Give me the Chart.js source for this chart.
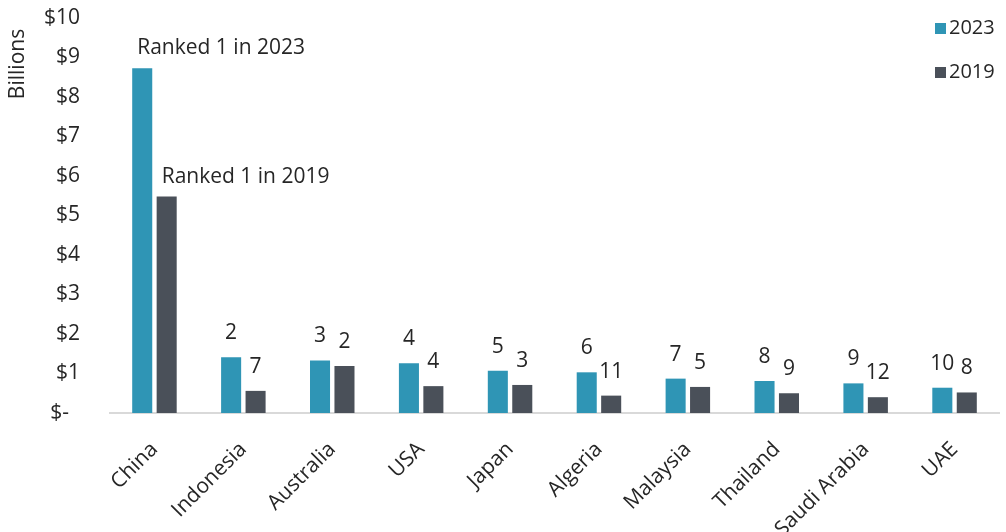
<!DOCTYPE html>
<html><head><meta charset="utf-8">
<script src="https://cdn.jsdelivr.net/npm/chart.js@4/dist/chart.umd.min.js"></script>
<style>html,body{margin:0;padding:0;background:#fff}#wrap{width:1006px;height:532px;position:relative}</style>
</head><body><div id="wrap"><canvas id="c"></canvas></div>
<script>
const categories = ['China','Indonesia','Australia','USA','Japan','Algeria','Malaysia','Thailand','Saudi Arabia','UAE'];
const values2023 = [8.73,1.41,1.33,1.26,1.07,1.03,0.87,0.81,0.75,0.64];
const values2019 = [5.48,0.56,1.19,0.68,0.71,0.44,0.66,0.50,0.40,0.52];
const ranks2023 = ['Ranked 1 in 2023','2','3','4','5','6','7','8','9','10'];
const ranks2019 = ['Ranked 1 in 2019','7','2','4','3','11','5','9','12','8'];
const seriesNames = ['2023','2019'];
const axisTitle = 'Billions';
const colors = ['#2f95b5','#4a5059'];
const FONT = '"Open Sans", sans-serif';
const TXT = '#262626';

const labelPlugin = {
  id:'rankLabels',
  afterDatasetsDraw(chart){
    const ctx = chart.ctx;
    ctx.save();
    ctx.font = '21px ' + FONT;
    ctx.fillStyle = TXT;
    ctx.textBaseline = 'middle';
    [ranks2023, ranks2019].forEach((ranks, di) => {
      const meta = chart.getDatasetMeta(di);
      meta.data.forEach((bar, i) => {
        if (i === 0) {
          ctx.textAlign = 'left';
          ctx.fillText(ranks[i], bar.x - 5, bar.y - 20);
        } else {
          ctx.textAlign = 'center';
          ctx.fillText(ranks[i], bar.x, bar.y - 24);
        }
      });
    });
    // axis title
    ctx.save();
    ctx.translate(18, 64);
    ctx.rotate(-Math.PI/2);
    ctx.textAlign = 'center';
    ctx.fillText(axisTitle, 0, 0);
    ctx.restore();
    // legend
    ctx.font = '20px ' + FONT;
    ctx.textAlign = 'left';
    const lx = 935, ly = [28, 72];
    seriesNames.forEach((n, i) => {
      ctx.fillStyle = colors[i];
      ctx.fillRect(lx, ly[i] - 5, 11, 11);
      ctx.fillStyle = TXT;
      ctx.fillText(n, lx + 14, ly[i]);
    });
    ctx.restore();
  }
};

new Chart(document.getElementById('c'), {
  type:'bar',
  data:{
    labels: categories,
    datasets:[
      {label: seriesNames[0], data: values2023, backgroundColor: colors[0], categoryPercentage:0.55, barPercentage:0.82},
      {label: seriesNames[1], data: values2019, backgroundColor: colors[1], categoryPercentage:0.55, barPercentage:0.82}
    ]
  },
  options:{
    responsive:true, maintainAspectRatio:false, animation:false,
    devicePixelRatio:1,
    layout:{padding:{top:18, right:7, left:0, bottom:0}},
    plugins:{legend:{display:false}, tooltip:{enabled:false}},
    scales:{
      x:{
        grid:{display:false, drawTicks:false},
        border:{display:true, color:'#d9d9d9', width:2},
        ticks:{font:{family:FONT, size:21}, color:TXT, maxRotation:45, minRotation:45, padding:24},
        afterFit(s){ s.height = 119; s.paddingTop = 0; }
      },
      y:{
        min:0, max:10,
        grid:{display:false, drawTicks:false},
        border:{display:false},
        ticks:{stepSize:1, font:{family:FONT, size:21}, color:TXT, padding:30,
          callback:(v)=> v===0 ? '$-  ' : '$'+v},
        afterFit(s){ s.width = 110; s.paddingTop = 0; s.paddingBottom = 0; }
      }
    }
  },
  plugins:[labelPlugin]
});
</script></body></html>
